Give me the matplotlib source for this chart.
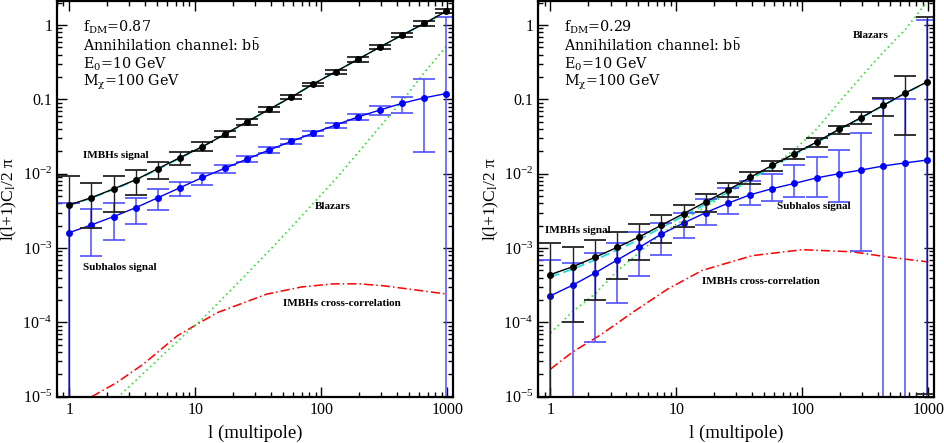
import matplotlib
matplotlib.use('Agg')
import matplotlib.pyplot as plt
from matplotlib.ticker import FixedLocator, LogLocator, NullFormatter, FixedFormatter

plt.rcParams['font.family'] = ['Liberation Serif', 'DejaVu Serif']
plt.rcParams['mathtext.fontset'] = 'custom'
plt.rcParams['mathtext.rm'] = 'Liberation Serif'
plt.rcParams['mathtext.it'] = 'Liberation Serif:italic'
plt.rcParams['mathtext.bf'] = 'Liberation Serif:bold'

W, H = 944, 443

# multipole bins
ell = [1, 1.5, 2.25, 3.38, 5.06, 7.59, 11.4, 17.1, 25.6, 38.4, 57.7, 86.5,
       130, 195, 292, 438, 657, 985]

# ---- left panel (f_DM = 0.87) ----
L_imbh = [3.8e-3, 4.76e-3, 6.25e-3, 8.3e-3, 0.0117, 0.0165, 0.0231, 0.0338,
          0.0496, 0.0733, 0.107, 0.161, 0.236, 0.345, 0.506, 0.733, 1.05, 1.54]
L_imbh_hi = [9.3e-3, 7.6e-3, 9.3e-3, 0.0112, 0.0146, 0.0196, 0.0269, 0.037,
             0.054, 0.079, 0.1135, 0.168, 0.248, 0.371, 0.539, 0.773, 1.13, 1.62]
L_imbh_lo = [1e-7, 1.86e-3, 3.1e-3, 5.2e-3, 8.5e-3, 0.013, 0.02, 0.031,
             0.0457, 0.0677, 0.1, 0.151, 0.222, 0.321, 0.476, 0.69, 0.97, 1.47]
L_imbh_model = [3.75e-3, 4.7e-3, 6.15e-3, 8.2e-3, 0.0115, 0.0163, 0.0231, 0.0338,
                0.0496, 0.0733, 0.107, 0.161, 0.236, 0.345, 0.506, 0.733, 1.05, 1.54]

L_sub = [1.61e-3, 2.05e-3, 2.65e-3, 3.5e-3, 4.76e-3, 6.5e-3, 8.9e-3, 0.0118,
         0.0157, 0.0208, 0.0272, 0.0352, 0.0452, 0.058, 0.072, 0.0886, 0.105, 0.12]
L_sub_hi = [4.0e-3, 3.33e-3, 4.0e-3, 4.76e-3, 6.2e-3, 7.8e-3, 0.0102, 0.0133,
            0.0175, 0.0229, 0.0294, 0.0376, 0.0486, 0.063, 0.0815, 0.109, 0.19, 1.28]
L_sub_lo = [1e-7, 7.85e-4, 1.3e-3, 2.13e-3, 3.26e-3, 5.0e-3, 7.1e-3, 0.01025,
            0.01426, 0.0188, 0.0249, 0.0325, 0.0417, 0.0528, 0.0617, 0.065, 0.0196, 1e-7]

L_blz_ell = [2.25, 3.38, 5.06, 7.59, 11.4, 17.1, 25.6, 38.4, 57.7, 86.5, 130, 195,
             292, 438, 657, 985]
L_blz = [8.7e-6, 1.66e-5, 3.16e-5, 6.0e-5, 1.12e-4, 2.24e-4, 4.5e-4, 9.1e-4,
         1.9e-3, 4.0e-3, 8.5e-3, 0.019, 0.043, 0.095, 0.23, 0.52]

L_xc_ell = [1.51, 2.38, 3.88, 7.2, 14.9, 37, 70, 126, 200, 316, 1000]
L_xc = [1.0e-5, 1.55e-5, 2.75e-5, 6.6e-5, 1.35e-4, 2.4e-4, 3.0e-4, 3.3e-4,
        3.3e-4, 3.1e-4, 2.4e-4]

# ---- right panel (f_DM = 0.29) ----
R_imbh = [4.4e-4, 5.6e-4, 7.5e-4, 1.02e-3, 1.41e-3, 2.03e-3, 2.9e-3, 4.17e-3,
          6.0e-3, 8.9e-3, 0.013, 0.0186, 0.0267, 0.0396, 0.0567, 0.083, 0.122, 0.173]
R_imbh_hi = [1.18e-3, 1.02e-3, 1.28e-3, 1.62e-3, 2.1e-3, 2.8e-3, 3.8e-3, 5.3e-3,
             7.4e-3, 0.0104, 0.0149, 0.0213, 0.0306, 0.044, 0.068, 0.105, 0.206, 1.29]
R_imbh_lo = [1e-7, 1.0e-4, 2.0e-4, 3.8e-4, 7e-4, 1.18e-3, 1.93e-3, 3.1e-3,
             4.8e-3, 7.2e-3, 0.0109, 0.0159, 0.0231, 0.034, 0.047, 0.060, 0.033, 1.1e-5]
R_imbh_only = [4.1e-4, 5.2e-4, 6.9e-4, 9.4e-4, 1.3e-3, 1.88e-3, 2.7e-3, 3.9e-3,
               5.6e-3, 8.4e-3, 0.0124, 0.018, 0.026, 0.039, 0.056, 0.082, 0.121, 0.172]

R_sub = [2.28e-4, 3.17e-4, 4.6e-4, 6.9e-4, 1.02e-3, 1.54e-3, 2.17e-3, 3.0e-3,
         4.0e-3, 5.2e-3, 6.3e-3, 7.4e-3, 8.8e-3, 0.0100, 0.0112, 0.0127, 0.014, 0.0153]
R_sub_hi = [6.9e-4, 6.3e-4, 8.7e-4, 1.18e-3, 1.62e-3, 2.2e-3, 3.0e-3, 4.5e-3,
            6.5e-3, 8.0e-3, 9.9e-3, 0.013, 0.0166, 0.021, 0.035, 0.1, 0.102, 1.16]
R_sub_lo = [1e-7, 1e-7, 5.4e-5, 1.85e-4, 4.2e-4, 8.1e-4, 1.35e-3, 2.05e-3,
            2.85e-3, 3.8e-3, 4.3e-3, 4.9e-3, 4.9e-3, 4.1e-3, 9e-4, 1e-7, 1e-7, 1e-7]

R_blz = [7.2e-5, 1.4e-4, 2.4e-4, 4.9e-4, 8.7e-4, 1.55e-3, 2.4e-3, 3.6e-3,
         5.4e-3, 8.3e-3, 0.0126, 0.021, 0.04, 0.091, 0.2, 0.43, 0.87, 2.1]

R_xc_ell = [1, 1.5, 2.5, 4.6, 8.5, 16, 40, 100, 250, 470, 1000]
R_xc = [2.35e-5, 4.0e-5, 6.8e-5, 1.4e-4, 2.8e-4, 5.0e-4, 7.9e-4, 9.5e-4,
        8.9e-4, 7.6e-4, 6.5e-4]

panels = [
    dict(rect=[0.0604, 0.1045, 0.4195, 0.893], fdm='0.87', tx=83,
         imbh=L_imbh, hi=L_imbh_hi, lo=L_imbh_lo, only=L_imbh_model,
         sub=L_sub, shi=L_sub_hi, slo=L_sub_lo,
         blz_ell=L_blz_ell, blz=L_blz, xc_ell=L_xc_ell, xc=L_xc,
         labels=[('IMBHs signal', 83, 155), ('Subhalos signal', 83, 267),
                 ('Blazars', 315, 207), ('IMBHs cross-correlation', 283, 304)]),
    dict(rect=[0.5702, 0.1045, 0.4192, 0.893], fdm='0.29', tx=564,
         imbh=R_imbh, hi=R_imbh_hi, lo=R_imbh_lo, only=R_imbh_only,
         sub=R_sub, shi=R_sub_hi, slo=R_sub_lo,
         blz_ell=ell, blz=R_blz, xc_ell=R_xc_ell, xc=R_xc,
         labels=[('IMBHs signal', 545, 230), ('Subhalos signal', 777, 207),
                 ('Blazars', 853, 35), ('IMBHs cross-correlation', 702, 282)]),
]

fig = plt.figure(figsize=(W / 100, H / 100), dpi=100)


def px_text(x, y, s, **kw):
    # place text by pixel position measured from the top-left corner
    fig.text(x / W, 1 - y / H, s, **kw)


note_font = ['DejaVu Serif']

for p in panels:
    ax = fig.add_axes(p['rect'])
    ax.set_xscale('log')
    ax.set_yscale('log')
    ax.set_xlim(0.8, 1110)
    ax.set_ylim(1e-5, 2.1)

    # model curves
    ax.plot(p['xc_ell'], p['xc'], color='red', lw=1.1, dashes=(6, 2, 1, 2))
    ax.plot(p['blz_ell'], p['blz'], color='#33dd33', lw=1.2, ls=(0, (1, 2)))
    ax.plot(ell, p['only'], color='#22dddd', lw=1.3, dashes=(5, 2.5))

    # subhalos
    s = p['sub']
    ax.errorbar(ell, s, yerr=[[a - b for a, b in zip(s, p['slo'])],
                              [b - a for a, b in zip(s, p['shi'])]],
                fmt='none', ecolor='#4f4fff', elinewidth=1.1, capsize=8, capthick=1.2)
    ax.plot(ell, s, color='blue', lw=1.0, marker='o', ms=4)

    # IMBHs
    m = p['imbh']
    ax.errorbar(ell, m, yerr=[[a - b for a, b in zip(m, p['lo'])],
                              [b - a for a, b in zip(m, p['hi'])]],
                fmt='none', ecolor='#222222', elinewidth=1.0, capsize=8, capthick=1.3)
    ax.plot(ell, m, color='black', lw=1.0, marker='o', ms=4)

    # texts
    tx = p['tx']
    kw = dict(fontsize=10.3, va='center', family=note_font)
    px_text(tx, 27, r'f$_\mathregular{DM}$=' + p['fdm'], **kw)
    px_text(tx, 45.5, r'Annihilation channel: b$\bar{\mathrm{b}}$', **kw)
    px_text(tx, 64, r'E$_\mathregular{0}$=10 GeV', **kw)
    px_text(tx, 82.5, r'M$_\mathregular{χ}$=100 GeV', **kw)
    for txt, xx, yy in p['labels']:
        px_text(xx, yy, txt, fontsize=8, fontweight='bold', va='center')

    ax.xaxis.set_major_locator(FixedLocator([1, 10, 100, 1000]))
    ax.xaxis.set_major_formatter(FixedFormatter(['1', '10', '100', '1000']))
    ax.xaxis.set_minor_locator(LogLocator(base=10, subs=range(2, 10), numticks=20))
    ax.xaxis.set_minor_formatter(NullFormatter())
    ax.yaxis.set_major_locator(FixedLocator([1e-5, 1e-4, 1e-3, 1e-2, 0.1, 1]))
    ax.yaxis.set_major_formatter(FixedFormatter(
        [r'10$^{-5}$', r'10$^{-4}$', r'10$^{-3}$', r'10$^{-2}$', '0.1', '1']))
    ax.yaxis.set_minor_locator(LogLocator(base=10, subs=range(2, 10), numticks=20))
    ax.yaxis.set_minor_formatter(NullFormatter())
    ax.tick_params(which='both', direction='in', top=True, right=True,
                   labelsize=11.5, width=1.0)
    ax.tick_params(which='major', length=7)
    ax.tick_params(which='minor', length=3.5)
    for sp in ax.spines.values():
        sp.set_linewidth(1.6)

    ax.set_xlabel('l (multipole)', fontsize=13.5, labelpad=5)
    ax.set_ylabel(r'l(l+1)C$_\mathregular{l}$/2 π', fontsize=12.5, labelpad=2)

fig.savefig('out.png', dpi=100)
